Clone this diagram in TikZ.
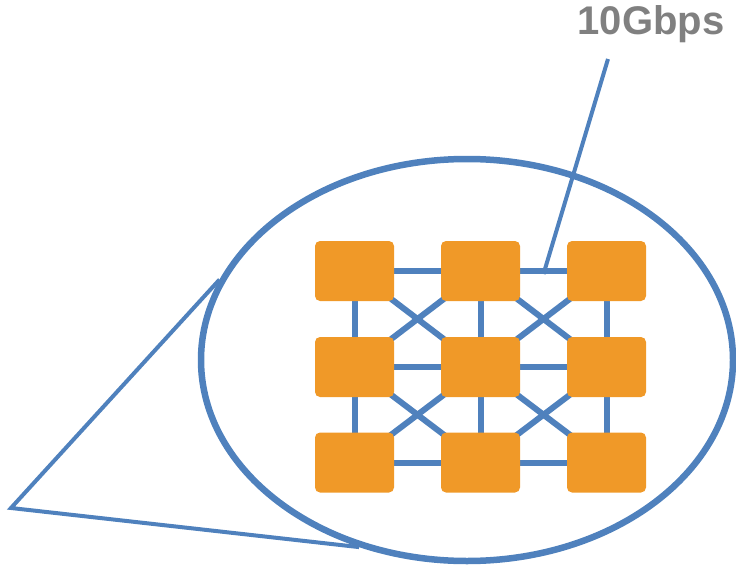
\documentclass[tikz,border=0pt]{standalone}
\usepackage{fontspec}
\setmainfont{Liberation Sans}
\usetikzlibrary{shapes.geometric,calc,backgrounds}
\definecolor{linkblue}{RGB}{79,129,189}
\definecolor{switchorange}{RGB}{240,153,40}
\definecolor{labelgray}{RGB}{128,128,128}
\tikzset{
  switchbox/.style={fill=switchorange, draw=none, rounded corners=5pt,
    minimum width=79pt, minimum height=60pt, inner sep=0pt},
  meshlink/.style={draw=linkblue, line width=6pt},
  callout/.style={draw=linkblue, line width=4pt},
  zoomring/.style={ellipse, draw=linkblue, line width=6.5pt,
    minimum width=532pt, minimum height=402pt, inner sep=0pt},
}
\begin{document}
\begin{tikzpicture}[x=1pt,y=-1pt]
  \useasboundingbox (0,0) rectangle (736,567);

  % magnified region
  \node[zoomring] (ring) at (467,360) {};

  % 3x3 grid of switches
  \foreach \c/\x in {1/354.5,2/480.5,3/606.5}
    \foreach \r/\y in {1/271,2/367,3/462.5}
      \node[switchbox] (s\r\c) at (\x,\y) {};

  % mesh links, drawn behind the switches
  \begin{scope}[on background layer]
    \foreach \r in {1,2,3}{
      \draw[meshlink] (s\r1.center) -- (s\r2.center);
      \draw[meshlink] (s\r2.center) -- (s\r3.center);
    }
    \foreach \c in {1,2,3}{
      \draw[meshlink] (s1\c.center) -- (s2\c.center);
      \draw[meshlink] (s2\c.center) -- (s3\c.center);
    }
    \foreach \r/\n in {1/2,2/3}
      \foreach \c/\m in {1/2,2/3}{
        \draw[meshlink] (s\r\c.center) -- (s\n\m.center);
        \draw[meshlink] (s\r\m.center) -- (s\n\c.center);
      }
  \end{scope}

  % zoom callout lines
  \coordinate (apex) at (11,508);
  \draw[callout, line join=miter] (ring.162.3) -- (apex) -- (ring.240);

  % link speed label
  \node[text=labelgray, font=\bfseries\fontsize{40}{48}\selectfont, inner sep=0pt]
    (speed) at (651,24) {10Gbps};
  \coordinate (speedtip) at (608,59);
  \coordinate (linkmid) at ($(s12.center)!0.5!(s13.center)$);
  \draw[callout] (speedtip) -- ([yshift=-3pt]linkmid);
\end{tikzpicture}
\end{document}
